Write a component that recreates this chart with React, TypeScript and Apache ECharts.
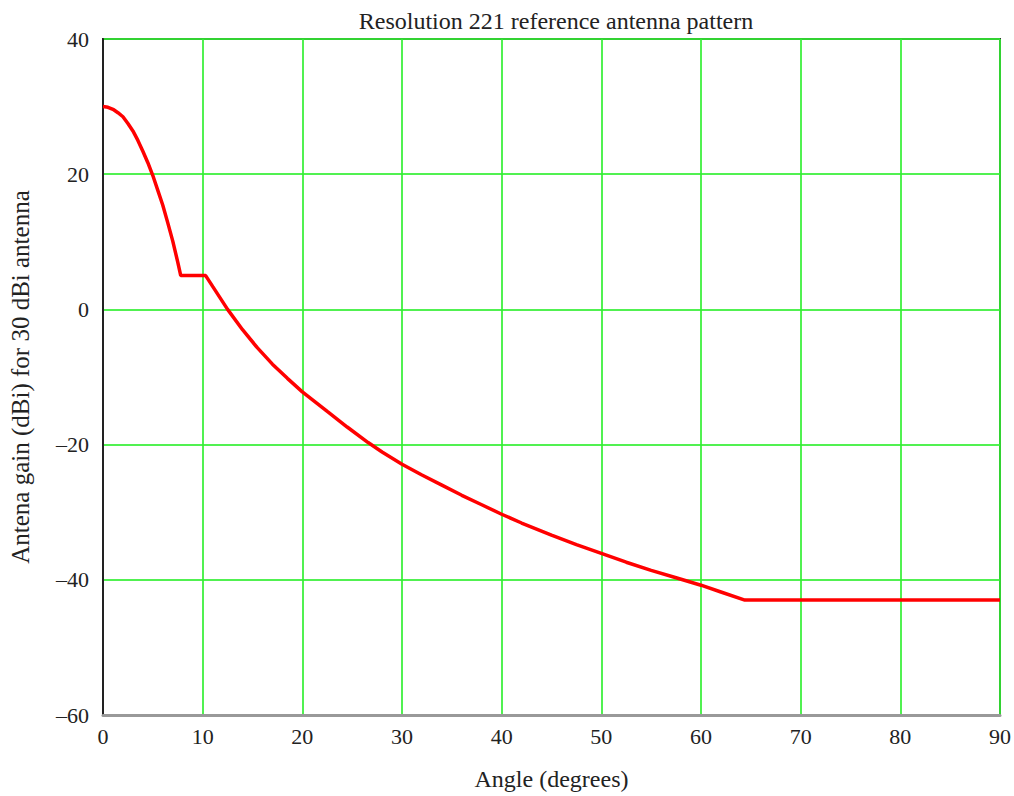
import React, { useEffect, useRef } from "react";
import * as echarts from "echarts";

const titleText = "Resolution 221 reference antenna pattern";
const xAxisName = "Angle (degrees)";
const yAxisName = "Antena gain (dBi) for 30 dBi antenna";

const angles = [0, 0.5, 1, 1.5, 2, 2.5, 3, 3.5, 4, 4.5, 5, 5.5, 6, 6.5, 7, 7.5, 7.8, 10.3, 11, 12.5, 14, 15.5, 17, 18.5, 20, 22.5, 24.5, 26.6, 28, 30, 32, 34, 36, 38, 40, 42, 45, 47.5, 50, 52.5, 55, 57.5, 60, 62, 64.4, 70, 80, 90];
const gains = [30, 29.9, 29.6, 29.1, 28.5, 27.5, 26.4, 25.0, 23.4, 21.7, 19.8, 17.6, 15.4, 12.8, 10.1, 7.0, 5, 5, 3.4, 0, -3.0, -5.7, -8.1, -10.2, -12.2, -15.1, -17.4, -19.7, -21.1, -22.9, -24.5, -26.0, -27.5, -28.9, -30.3, -31.6, -33.4, -34.8, -36.1, -37.4, -38.6, -39.7, -40.8, -41.8, -43, -43, -43, -43];

const xTicks = [0, 10, 20, 30, 40, 50, 60, 70, 80, 90];
const yTicks = [-60, -40, -20, 0, 20, 40];

const FONT = "'Liberation Serif', 'DejaVu Serif', serif";

export default function App() {
  const ref = useRef<HTMLDivElement>(null);
  useEffect(() => {
    document.body.style.margin = "0";
    document.body.style.overflow = "hidden";
    if (!ref.current) return;
    const chart = echarts.init(ref.current, undefined, { renderer: "svg" });
    const fmt = (v: number) => (v < 0 ? "\u2013" + Math.abs(v) : String(v));
    chart.setOption({
      animation: false,
      backgroundColor: "#ffffff",
      title: {
        text: titleText,
        left: 551,
        textAlign: "center",
        top: 4,
        textStyle: { fontFamily: FONT, fontSize: 24, fontWeight: "normal", color: "#222" },
      },
      grid: {
        left: 102,
        right: 14,
        top: 39,
        bottom: 74,
        show: true,
        borderColor: "#333",
        borderWidth: 2,
        backgroundColor: "transparent",
      },
      xAxis: {
        type: "value",
        min: xTicks[0],
        max: xTicks[xTicks.length - 1],
        interval: 10,
        name: xAxisName,
        nameLocation: "middle",
        nameGap: 52,
        nameTextStyle: { fontFamily: FONT, fontSize: 24, color: "#222" },
        axisLine: { show: true, onZero: false, lineStyle: { color: "#999", width: 3 } },
        axisTick: { show: false },
        axisLabel: { fontFamily: FONT, fontSize: 22, color: "#222", margin: 10, formatter: fmt },
        splitLine: { show: true, lineStyle: { color: "#33ee33", width: 2, opacity: 0.85 } },
      },
      yAxis: {
        type: "value",
        min: yTicks[0],
        max: yTicks[yTicks.length - 1],
        interval: 20,
        name: yAxisName,
        nameLocation: "middle",
        nameGap: 70,
        nameTextStyle: { fontFamily: FONT, fontSize: 25, color: "#222" },
        axisLine: { show: true, onZero: false, lineStyle: { color: "#222", width: 2 } },
        axisTick: { show: false },
        axisLabel: { fontFamily: FONT, fontSize: 22, color: "#222", margin: 14, formatter: fmt },
        splitLine: { show: true, lineStyle: { color: "#33ee33", width: 2, opacity: 0.85 } },
      },
      series: [
        {
          type: "line",
          data: angles.map((a, i) => [a, gains[i]]),
          showSymbol: false,
          smooth: false,
          lineStyle: { color: "#ff0000", width: 3.5 },
          z: 5,
        },
      ],
    });
    return () => chart.dispose();
  }, []);
  return <div ref={ref} style={{ width: 1014, height: 796 }} />;
}
